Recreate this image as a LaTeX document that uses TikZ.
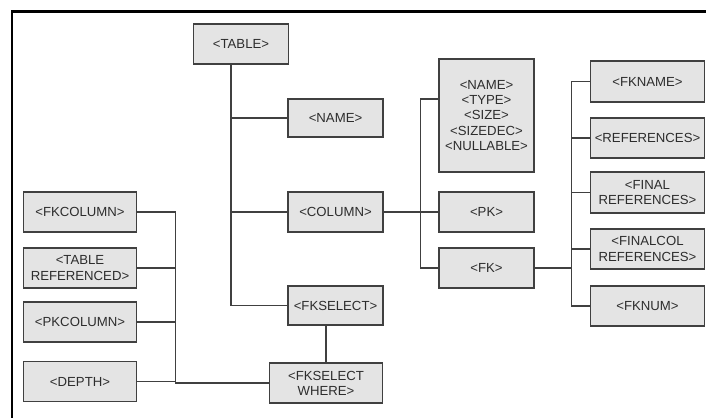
\documentclass[tikz,border=0pt]{standalone}
\usepackage{fontspec}
\setmainfont{Liberation Sans}
\usepackage{tikz}
\usetikzlibrary{positioning, calc}
\definecolor{boxfill}{RGB}{228,228,228}
\definecolor{boxline}{RGB}{64,64,64}
\definecolor{txt}{RGB}{45,45,45}

\begin{document}
\begin{tikzpicture}[
      box/.style={draw=boxline,fill=boxfill,line width=0.7pt,minimum width=1.9cm,
        minimum height=0.8cm,inner sep=1pt,align=center,text=txt,
        font=\fontsize{7.5}{8.6}\selectfont},
      wbox/.style={box,minimum width=2.27cm},
      link/.style={draw=boxline,line width=0.7pt}
    ]
    \useasboundingbox (0,0) rectangle (14.12,-8.36);

    % frame (top and left edges only)
    \draw[line width=1.7pt] (14.12,-0.22) -- (0.24,-0.22) -- (0.24,-8.36);

    % root and its children
    \node[box] (table) at (4.82,-0.88) {<TABLE>};
    \node[box,minimum height=0.76cm] (name) at (6.71,-2.36) {<NAME>};
    \node[box] (column) at (6.71,-4.24) {<COLUMN>};
    \node[box,minimum height=0.78cm] (fkselect) at (6.71,-6.11) {<FKSELECT>};
    \node[wbox] (fkwhere) at (6.52,-7.66) {<FKSELECT\\WHERE>};

    % column children
    \node[box,minimum height=2.26cm] (attrs) at (9.73,-2.31)
      {<NAME>\\<TYPE>\\<SIZE>\\<SIZEDEC>\\<NULLABLE>};
    \node[box] (pk) at (9.73,-4.24) {<PK>};
    \node[box] (fk) at (9.73,-5.36) {<FK>};

    % fk children
    \node[wbox,minimum height=0.82cm] (fkname) at (12.95,-1.63) {<FKNAME>};
    \node[wbox] (references) at (12.95,-2.76) {<REFERENCES>};
    \node[wbox,minimum height=0.82cm] (finalref) at (12.95,-3.85) {<FINAL\\REFERENCES>};
    \node[wbox] (finalcol) at (12.95,-4.98) {<FINALCOL\\REFERENCES>};
    \node[wbox] (fknum) at (12.95,-6.12) {<FKNUM>};

    % fkselect where children
    \node[wbox] (fkcolumn) at (1.60,-4.24) {<FKCOLUMN>};
    \node[wbox] (tableref) at (1.60,-5.36) {<TABLE\\REFERENCED>};
    \node[wbox] (pkcolumn) at (1.60,-6.44) {<PKCOLUMN>};
    \node[wbox] (depth) at (1.60,-7.63) {<DEPTH>};

    % bus points
    \coordinate (trunk) at ([xshift=-0.2cm]table.south);
    \coordinate (colbus) at ([shift={(-0.36,0.33)}]attrs.west);
    \coordinate (fkbus) at ([xshift=-0.38cm]fkname.west);
    \coordinate (lbus) at ([xshift=0.76cm]fkcolumn.east);

    % table tree
    \draw[link] (trunk) |- (fkselect.west);
    \draw[link] (name.west) -- (name.west -| trunk);
    \draw[link] (column.west) -- (column.west -| trunk);
    \draw[link] (fkselect.south -| fkwhere.north) -- (fkwhere.north);

    % column tree
    \draw[link] (colbus -| attrs.west) -- (colbus) |- (fk.west);
    \draw[link] (column.east) -- (pk.west);

    % fk tree
    \draw[link] (fkname.west) -- (fkbus) |- (fknum.west);
    \foreach \n in {references,finalref,finalcol}
      \draw[link] (\n.west) -- (\n.west -| fkbus);
    \draw[link] (fk.east) -- (fk.east -| fkbus);

    % fkselect where tree
    \draw[link] (fkcolumn.east) -- (lbus) |- (fkwhere.west);
    \foreach \n in {tableref,pkcolumn,depth}
      \draw[link] (\n.east) -- (\n.east -| lbus);

\end{tikzpicture}
\end{document}
